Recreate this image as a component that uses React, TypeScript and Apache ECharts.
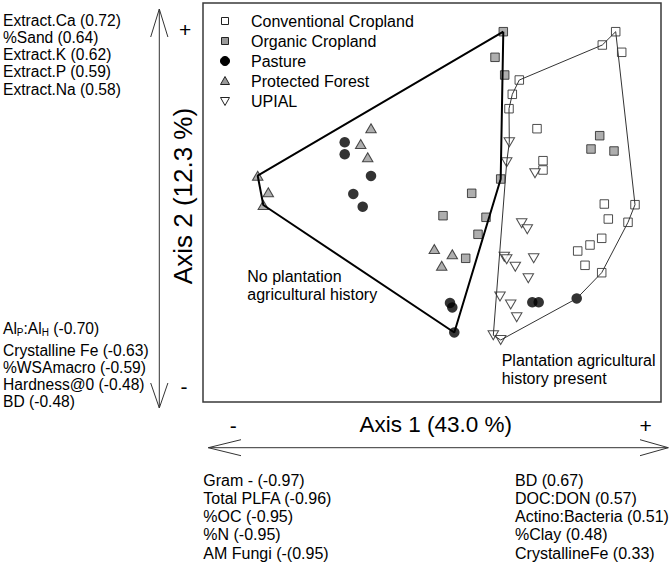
import React, { useEffect, useRef } from "react";
import * as echarts from "echarts";

// Ordination scores (arbitrary axis units)
const seriesNames = ["Conventional Cropland", "Organic Cropland", "Pasture", "Protected Forest", "UPIAL"];

const conventional: number[][] = [
  [412.7, 370.3], [399.3, 357], [418.7, 349.7], [316.3, 322], [309.3, 307.7], [306, 293.3],
  [334, 273.3], [340, 241.3], [340, 232], [401.3, 198], [432, 197.3], [405.3, 183],
  [425, 179.7], [398.7, 163.7], [387, 157], [374.7, 151], [382, 136.7], [398.7, 129.3],
];
const organic: number[][] = [
  [300.3, 370.3], [292, 344.7], [301.7, 327], [396.7, 266.3], [388, 253], [411, 251],
  [297.7, 223], [268.7, 208.7], [240, 186.3], [283, 184.7], [275, 167.7], [262.7, 143.7],
];
const pasture: number[][] = [
  [141.7, 259.7], [141.7, 247.7], [168, 226], [150.3, 208], [159.7, 195.3], [247, 99],
  [249.3, 94.5], [251.3, 69.5], [329.3, 99.7], [335.7, 99.7], [373.7, 103.5],
];
const protectedForest: number[][] = [
  [168, 273.7], [157.7, 258], [164.7, 244.7], [54.7, 226.3], [65.3, 209.7], [60.3, 197],
  [231.3, 153], [249.3, 147.7], [238.7, 136.3],
];
const upial: number[][] = [
  [306.3, 259.7], [303.7, 239.7], [332, 228.7], [318.7, 178.7], [324.3, 172.7], [301.3, 145.3],
  [303.7, 142.7], [312.3, 135.3], [330.7, 143.7], [325.3, 123.7], [297, 105.5], [307.7, 97.5],
  [313.7, 84.7], [290.3, 66.7], [297.7, 62],
];

// Hull vertices as [series index, point index]
const noPlantationHull: number[][] = [[1, 0], [1, 6], [2, 7], [3, 5], [3, 3]];
const plantationHull: number[][] = [
  [0, 1], [0, 0], [0, 10], [0, 12], [0, 17], [2, 10], [4, 14], [4, 13], [4, 1], [4, 0],
  [0, 5], [0, 4], [0, 3],
];

const axis2Positive = ["Extract.Ca (0.72)", "%Sand (0.64)", "Extract.K (0.62)", "Extract.P (0.59)", "Extract.Na (0.58)"];
const axis2Negative = ["{a|Al}{s|P}{a|:Al}{s|H}{a| (-0.70)}", "Crystalline Fe (-0.63)", "%WSAmacro (-0.59)", "Hardness@0 (-0.48)", "BD (-0.48)"];
const axis1Negative = ["Gram - (-0.97)", "Total PLFA (-0.96)", "%OC (-0.95)", "%N (-0.95)", "AM Fungi (-(0.95)"];
const axis1Positive = ["BD (0.67)", "DOC:DON (0.57)", "Actino:Bacteria (0.51)", "%Clay (0.48)", "CrystallineFe (0.33)"];

const FONT = "'Liberation Sans', Arial, Helvetica, sans-serif";

export default function App() {
  const ref = useRef<HTMLDivElement>(null);
  useEffect(() => {
    if (!ref.current) return;
    const chart = echarts.init(ref.current, null, { renderer: "svg" });
    const groups = [conventional, organic, pasture, protectedForest, upial];
    const hullData = (h: number[][]) => {
      const pts = h.map(([s, i]) => groups[s][i]);
      return [...pts, pts[0]];
    };
    const border = "#222";
    const gray = "#9a9a9a";

    const txt = (text: string, x: number, y: number, size: number, extra: any = {}) => ({
      type: "text",
      x,
      y,
      silent: true,
      style: { text, fontSize: size, fontFamily: FONT, fill: "#000", verticalAlign: "middle", align: "left", ...extra },
    });

    const graphics: any[] = [];
    // legend
    const ly = [21, 41, 61, 81, 101];
    const lx = 225;
    graphics.push({ type: "rect", shape: { x: lx - 3.5, y: ly[0] - 3.5, width: 7, height: 7 }, style: { fill: "#fff", stroke: border, lineWidth: 1 } });
    graphics.push({ type: "rect", shape: { x: lx - 3.5, y: ly[1] - 3.5, width: 7, height: 7 }, style: { fill: gray, stroke: border, lineWidth: 1 } });
    graphics.push({ type: "circle", shape: { cx: lx, cy: ly[2], r: 4.5 }, style: { fill: "#000", stroke: "#000" } });
    graphics.push({ type: "polygon", shape: { points: [[lx, ly[3] - 4.5], [lx + 4.5, ly[3] + 3.5], [lx - 4.5, ly[3] + 3.5]] }, style: { fill: gray, stroke: border, lineWidth: 1 } });
    graphics.push({ type: "polygon", shape: { points: [[lx, ly[4] + 4.5], [lx + 4.5, ly[4] - 3.5], [lx - 4.5, ly[4] - 3.5]] }, style: { fill: "#fff", stroke: border, lineWidth: 1 } });
    seriesNames.forEach((n, i) => graphics.push(txt(n, 251, ly[i], 16)));

    // vertical arrow (axis 2)
    const ax = 159.3;
    graphics.push({ type: "line", shape: { x1: ax, y1: 9, x2: ax, y2: 408 }, style: { stroke: "#333", lineWidth: 1 } });
    graphics.push({ type: "polyline", shape: { points: [[ax - 8.6, 37], [ax, 9], [ax + 8.6, 37]] }, style: { stroke: "#333", lineWidth: 1, fill: "none" } });
    graphics.push({ type: "polyline", shape: { points: [[ax - 8.6, 383], [ax, 408], [ax + 8.6, 383]] }, style: { stroke: "#333", lineWidth: 1, fill: "none" } });
    graphics.push(txt("+", 185, 29, 21, { align: "center" }));
    graphics.push(txt("-", 184, 386, 21, { align: "center" }));
    graphics.push({
      type: "text",
      x: 183,
      y: 196,
      rotation: Math.PI / 2,
      silent: true,
      style: { text: "Axis 2 (12.3 %)", fontSize: 26, fontFamily: FONT, fill: "#000", align: "center", verticalAlign: "middle" },
    });

    // horizontal arrow (axis 1)
    const ay = 447.7;
    graphics.push({ type: "line", shape: { x1: 208.3, y1: ay, x2: 668.3, y2: ay }, style: { stroke: "#333", lineWidth: 1 } });
    graphics.push({ type: "polyline", shape: { points: [[241, ay - 8], [208.3, ay], [241, ay + 8]] }, style: { stroke: "#333", lineWidth: 1, fill: "none" } });
    graphics.push({ type: "polyline", shape: { points: [[640, ay - 8], [668.3, ay], [640, ay + 8]] }, style: { stroke: "#333", lineWidth: 1, fill: "none" } });
    graphics.push(txt("-", 233.3, 425, 21, { align: "center" }));
    graphics.push(txt("+", 645.7, 425, 21, { align: "center" }));
    graphics.push(txt("Axis 1 (43.0 %)", 435.8, 424, 22.5, { align: "center" }));

    // loadings text
    axis2Positive.forEach((t, i) => graphics.push(txt(t, 3, 20 + i * 17.3, 15.6)));
    axis2Negative.forEach((t, i) => {
      const y = i === 0 ? 328.5 : 350 + (i - 1) * 17;
      if (i === 0) {
        graphics.push({
          type: "text",
          x: 3,
          y,
          silent: true,
          style: {
            text: t,
            fontFamily: FONT,
            fill: "#000",
            verticalAlign: "middle",
            rich: {
              a: { fontSize: 15.6, fontFamily: FONT, lineHeight: 18, verticalAlign: "middle" },
              s: { fontSize: 10, fontFamily: FONT, lineHeight: 18, verticalAlign: "bottom" },
            },
          },
        });
      } else graphics.push(txt(t, 3, y, 15.6));
    });
    axis1Negative.forEach((t, i) => graphics.push(txt(t, 203.3, 480 + i * 18.3, 16)));
    axis1Positive.forEach((t, i) => graphics.push(txt(t, 515, 480 + i * 18.3, 16)));

    // annotations inside plot
    graphics.push(txt("No plantation", 247.3, 276.7, 16));
    graphics.push(txt("agricultural history", 247.3, 294.3, 16));
    graphics.push(txt("Plantation agricultural", 501.7, 360, 16));
    graphics.push(txt("history present", 501.7, 378, 16));

    const scatterBase = { type: "scatter", z: 2, silent: true };
    chart.setOption({
      animation: false,
      grid: { left: 203, top: 3, width: 458, height: 399, show: true, borderColor: "#3a3a3a", borderWidth: 1.5 },
      xAxis: { type: "value", min: 0, max: 458, show: false },
      yAxis: { type: "value", min: 0, max: 399, show: false },
      series: [
        { ...scatterBase, name: seriesNames[0], data: conventional, symbol: "rect", symbolSize: 8.5, itemStyle: { color: "#fff", borderColor: border, borderWidth: 1 } },
        { ...scatterBase, name: seriesNames[1], data: organic, symbol: "rect", symbolSize: 8.5, itemStyle: { color: gray, borderColor: border, borderWidth: 1 } },
        { ...scatterBase, name: seriesNames[2], data: pasture, symbol: "circle", symbolSize: 10.5, itemStyle: { color: "#000" } },
        { ...scatterBase, name: seriesNames[3], data: protectedForest, symbol: "triangle", symbolSize: [10.5, 9], itemStyle: { color: gray, borderColor: border, borderWidth: 1 } },
        { ...scatterBase, name: seriesNames[4], data: upial, symbol: "triangle", symbolRotate: 180, symbolSize: [10.5, 9], itemStyle: { color: "#fff", borderColor: border, borderWidth: 1 } },
        { type: "line", z: 3, silent: true, data: hullData(noPlantationHull), symbol: "none", lineStyle: { color: "#000", width: 2 } },
        { type: "line", z: 3, silent: true, data: hullData(plantationHull), symbol: "none", lineStyle: { color: "#333", width: 1 } },
      ],
      graphic: graphics,
    });
    return () => chart.dispose();
  }, []);
  return <div ref={ref} style={{ position: "fixed", left: 0, top: 0, width: 671, height: 562, background: "#fff" }} />;
}
